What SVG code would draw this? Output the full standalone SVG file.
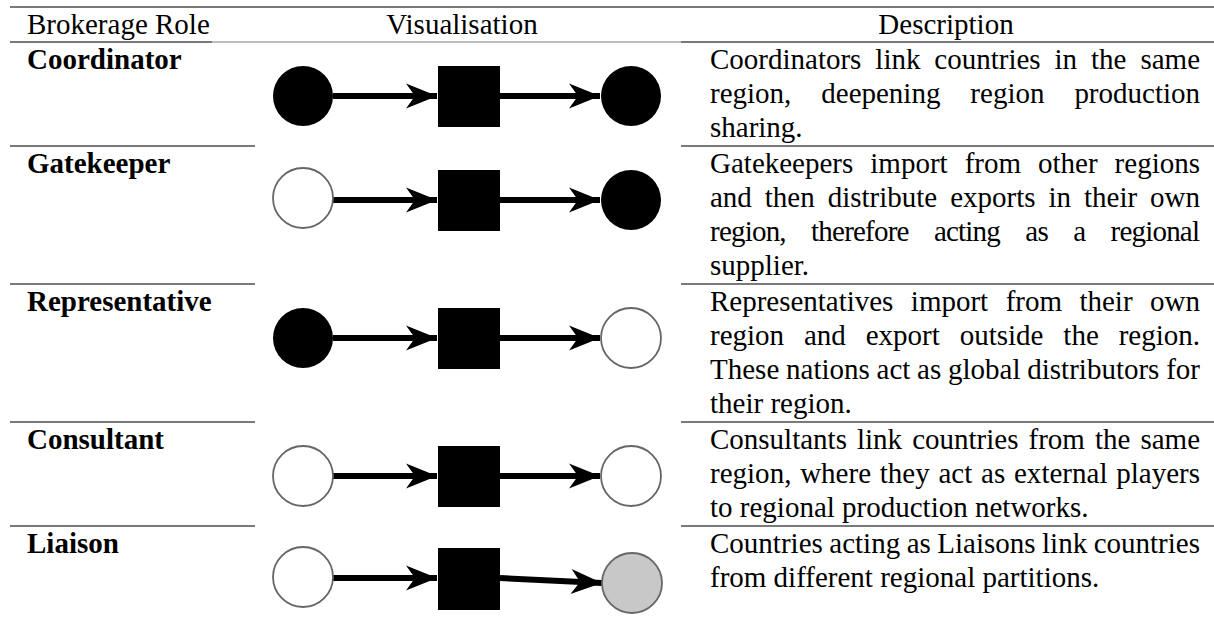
<svg xmlns="http://www.w3.org/2000/svg" width="1214" height="628" viewBox="0 0 1214 628">
<style>
.t{font-family:"Liberation Serif","Times New Roman",serif;font-size:29px;fill:#000}
.b{font-weight:bold}
.rule{stroke:#7a7a7a;stroke-width:2}
.rule2{stroke:#a8a8a8;stroke-width:1.5}
.blk{fill:#000}
.wht{fill:#fff;stroke:#666;stroke-width:1.8}
.gry{fill:#c8c8c8;stroke:#666;stroke-width:1.8}
.edge{stroke:#000;stroke-width:6;fill:none;marker-end:url(#ah)}
</style>
<defs>
<marker id="ah" viewBox="-31 -13 32 26" refX="0" refY="0" markerWidth="32" markerHeight="26" markerUnits="userSpaceOnUse" orient="auto">
<path d="M0,0 L-31,-12.5 L-22,0 L-31,12.5 Z" fill="#000"/>
</marker>
</defs>
<rect width="1214" height="628" fill="#fff"/>
<g id="rules">
<line class="rule" x1="10" y1="7" x2="1214" y2="7"/>
<line class="rule" x1="10" y1="42" x2="212" y2="42"/>
<line class="rule2" x1="212" y1="42" x2="681" y2="42"/>
<line class="rule" x1="681" y1="42" x2="1214" y2="42"/>
<line class="rule" x1="10" y1="146" x2="255" y2="146"/>
<line class="rule" x1="681" y1="146" x2="1214" y2="146"/>
<line class="rule" x1="10" y1="284" x2="255" y2="284"/>
<line class="rule" x1="681" y1="284" x2="1214" y2="284"/>
<line class="rule" x1="10" y1="422" x2="255" y2="422"/>
<line class="rule" x1="681" y1="422" x2="1214" y2="422"/>
<line class="rule" x1="10" y1="526" x2="255" y2="526"/>
<line class="rule" x1="681" y1="526" x2="1214" y2="526"/>
</g>
<g id="header">
<text class="t" x="27" y="34">Brokerage Role</text>
<text class="t" x="462" y="34" text-anchor="middle">Visualisation</text>
<text class="t" x="946" y="34" text-anchor="middle">Description</text>
</g>
<g id="connectors">
<line class="edge" x1="333" y1="96" x2="437" y2="96"/>
<line class="edge" x1="500" y1="96" x2="600" y2="96"/>
<line class="edge" x1="333" y1="200" x2="437" y2="200"/>
<line class="edge" x1="500" y1="200" x2="600" y2="200"/>
<line class="edge" x1="333" y1="338" x2="437" y2="338"/>
<line class="edge" x1="500" y1="338" x2="600" y2="338"/>
<line class="edge" x1="333" y1="476" x2="437" y2="476"/>
<line class="edge" x1="500" y1="476" x2="600" y2="476"/>
<line class="edge" x1="333" y1="578" x2="437" y2="578"/>
<line class="edge" x1="500" y1="578" x2="602" y2="583"/>
</g>
<g id="coordinator">
<text class="t b" x="27" y="69">Coordinator</text>
<circle class="blk" cx="303" cy="96" r="30"/>
<rect class="blk" x="438" y="66" width="62" height="61"/>
<circle class="blk" cx="631" cy="96" r="30"/>
<text class="t" x="710" y="69" word-spacing="6.7" textLength="490" lengthAdjust="spacing">Coordinators link countries in the same</text>
<text class="t" x="710" y="103" word-spacing="22.7" textLength="490" lengthAdjust="spacing">region, deepening region production</text>
<text class="t" x="710" y="137">sharing.</text>
</g>
<g id="gatekeeper">
<text class="t b" x="27" y="173">Gatekeeper</text>
<circle class="wht" cx="303" cy="198" r="30"/>
<rect class="blk" x="438" y="170" width="62" height="61"/>
<circle class="blk" cx="631" cy="200" r="30"/>
<text class="t" x="710" y="173" word-spacing="9.75" textLength="490" lengthAdjust="spacing">Gatekeepers import from other regions</text>
<text class="t" x="710" y="207" word-spacing="5.7" textLength="490" lengthAdjust="spacing">and then distribute exports in their own</text>
<text class="t" x="710" y="241" word-spacing="18.8" textLength="490" lengthAdjust="spacing">region, therefore acting as a regional</text>
<text class="t" x="710" y="275">supplier.</text>
</g>
<g id="representative">
<text class="t b" x="27" y="311">Representative</text>
<circle class="blk" cx="303" cy="338" r="30"/>
<rect class="blk" x="438" y="308" width="62" height="61"/>
<circle class="wht" cx="631" cy="338" r="30"/>
<text class="t" x="710" y="311" word-spacing="10.3" textLength="490" lengthAdjust="spacing">Representatives import from their own</text>
<text class="t" x="710" y="345" word-spacing="12.6" textLength="490" lengthAdjust="spacing">region and export outside the region.</text>
<text class="t" x="710" y="379" word-spacing="-0.5" textLength="490" lengthAdjust="spacing">These nations act as global distributors for</text>
<text class="t" x="710" y="413">their region.</text>
</g>
<g id="consultant">
<text class="t b" x="27" y="449">Consultant</text>
<circle class="wht" cx="303" cy="476" r="30"/>
<rect class="blk" x="438" y="446" width="62" height="61"/>
<circle class="wht" cx="631" cy="476" r="30"/>
<text class="t" x="710" y="449" word-spacing="2.8" textLength="490" lengthAdjust="spacing">Consultants link countries from the same</text>
<text class="t" x="710" y="483" word-spacing="1.5" textLength="490" lengthAdjust="spacing">region, where they act as external players</text>
<text class="t" x="710" y="517">to regional production networks.</text>
</g>
<g id="liaison">
<text class="t b" x="27" y="553">Liaison</text>
<circle class="wht" cx="303" cy="577" r="30"/>
<rect class="blk" x="438" y="548" width="62" height="62"/>
<circle class="gry" cx="632" cy="583" r="30"/>
<text class="t" x="710" y="553" word-spacing="-0.8" textLength="490" lengthAdjust="spacing">Countries acting as Liaisons link countries</text>
<text class="t" x="710" y="587">from different regional partitions.</text>
</g>
</svg>
